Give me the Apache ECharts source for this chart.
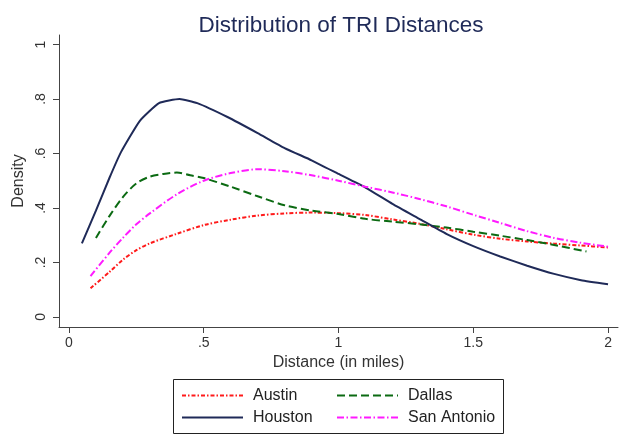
<!DOCTYPE html>
<html>
<head>
<meta charset="utf-8">
<script src="https://cdn.jsdelivr.net/npm/echarts@6/dist/echarts.min.js"></script>
<style>
  html, body { margin: 0; padding: 0; background: #fff; }
  #chart { width: 627px; height: 436px; }
</style>
</head>
<body>
<div id="chart"></div>
<script>
// kernel density curves
const austinX = [0.08, 0.15, 0.2, 0.25, 0.3, 0.4, 0.5, 0.6, 0.7, 0.8, 0.9, 1.0, 1.1, 1.2, 1.3, 1.4, 1.5, 1.6, 1.7, 1.8, 1.9, 2.0];
const austinY = [0.105, 0.165, 0.21, 0.245, 0.27, 0.305, 0.337, 0.357, 0.372, 0.38, 0.383, 0.381, 0.374, 0.358, 0.342, 0.322, 0.302, 0.287, 0.277, 0.269, 0.262, 0.255];

const dallasX = [0.1, 0.15, 0.2, 0.25, 0.3, 0.35, 0.4, 0.45, 0.5, 0.6, 0.7, 0.8, 0.9, 1.0, 1.1, 1.2, 1.3, 1.4, 1.5, 1.6, 1.7, 1.8, 1.92];
const dallasY = [0.29, 0.37, 0.44, 0.49, 0.515, 0.525, 0.53, 0.52, 0.51, 0.478, 0.443, 0.41, 0.39, 0.378, 0.36, 0.35, 0.34, 0.328, 0.313, 0.298, 0.282, 0.264, 0.24];

const houstonX = [0.048, 0.1, 0.15, 0.193, 0.263, 0.334, 0.41, 0.476, 0.588, 0.7, 0.8, 0.9, 1.0, 1.1, 1.2, 1.3, 1.4, 1.5, 1.6, 1.7, 1.8, 1.9, 2.0];
const houstonY = [0.27, 0.39, 0.51, 0.605, 0.72, 0.785, 0.80, 0.785, 0.734, 0.675, 0.62, 0.575, 0.525, 0.475, 0.415, 0.36, 0.305, 0.26, 0.222, 0.188, 0.158, 0.135, 0.12];

const sanAntonioX = [0.08, 0.15, 0.2, 0.25, 0.3, 0.4, 0.5, 0.6, 0.7, 0.8, 0.9, 1.0, 1.1, 1.2, 1.3, 1.4, 1.5, 1.6, 1.7, 1.8, 1.9, 2.0];
const sanAntonioY = [0.15, 0.235, 0.29, 0.34, 0.38, 0.45, 0.5, 0.528, 0.542, 0.535, 0.52, 0.5, 0.478, 0.457, 0.433, 0.406, 0.375, 0.345, 0.315, 0.29, 0.272, 0.258];

const xTicks = [0, 0.5, 1, 1.5, 2];
const yTicks = [0, 0.2, 0.4, 0.6, 0.8, 1];

const font = "'Liberation Sans', Arial, sans-serif";

function pairs(xs, ys) {
  return xs.map((x, i) => [x, ys[i]]);
}
// stata style labels: .5 instead of 0.5
function stataLabel(v) {
  return String(v).replace(/^0\./, '.');
}

const legendCommon = {
  orient: 'vertical',
  top: 387,
  padding: 0,
  itemWidth: 61, itemHeight: 14, itemGap: 5,
  itemStyle: { opacity: 0 },
  textStyle: { fontFamily: font, fontSize: 16, lineHeight: 17, color: '#222', padding: [0, 0, 0, 5] }
};

const chart = echarts.init(document.getElementById('chart'));

chart.setOption({
  animation: false,
  backgroundColor: '#fff',
  title: {
    text: 'Distribution of TRI Distances',
    left: 336,
    textAlign: 'center',
    top: 9,
    textStyle: { fontFamily: font, fontSize: 22.5, fontWeight: 'normal', color: '#1f2a58' }
  },
  grid: { left: 59, right: 9, top: 35, bottom: 109 },
  xAxis: {
    type: 'value',
    min: -0.037,
    max: 2.037,
    name: 'Distance (in miles)',
    nameLocation: 'middle',
    nameGap: 28,
    nameTextStyle: { fontFamily: font, fontSize: 16, color: '#333' },
    axisLine: { onZero: false, lineStyle: { color: '#444', width: 1 } },
    axisTick: { customValues: xTicks, length: 6, lineStyle: { color: '#444' } },
    axisLabel: {
      customValues: xTicks,
      formatter: stataLabel,
      fontFamily: font, fontSize: 14, color: '#333', margin: 9
    },
    splitLine: { show: false }
  },
  yAxis: {
    type: 'value',
    min: -0.037,
    max: 1.035,
    name: 'Density',
    nameLocation: 'middle',
    nameGap: 31,
    nameTextStyle: { fontFamily: font, fontSize: 16, color: '#333' },
    axisLine: { onZero: false, lineStyle: { color: '#444', width: 1 } },
    axisTick: { customValues: yTicks, length: 6, lineStyle: { color: '#444' } },
    axisLabel: {
      customValues: yTicks,
      formatter: stataLabel,
      rotate: 90,
      fontFamily: font, fontSize: 14, color: '#333', margin: 11
    },
    splitLine: { show: false }
  },
  graphic: [{
    type: 'rect',
    shape: { x: 173.5, y: 379.5, width: 330, height: 54 },
    style: { fill: 'none', stroke: '#222', lineWidth: 1 }
  }],
  legend: [
    Object.assign({ data: ['Austin', 'Houston'], left: 181 }, legendCommon),
    Object.assign({ data: ['Dallas', 'San Antonio'], left: 336 }, legendCommon)
  ],
  series: [
    {
      name: 'Austin', type: 'line', showSymbol: false, symbol: 'none', smooth: 0.3,
      data: pairs(austinX, austinY),
      lineStyle: { color: '#ff1a1a', width: 2, type: [4, 2, 1.5, 2] },
      itemStyle: { color: '#ff1a1a' }
    },
    {
      name: 'Dallas', type: 'line', showSymbol: false, symbol: 'none', smooth: 0.3,
      data: pairs(dallasX, dallasY),
      lineStyle: { color: '#0b6a12', width: 2, type: [8, 4] },
      itemStyle: { color: '#0b6a12' }
    },
    {
      name: 'Houston', type: 'line', showSymbol: false, symbol: 'none', smooth: 0.15,
      data: pairs(houstonX, houstonY),
      lineStyle: { color: '#1f2a58', width: 2 },
      itemStyle: { color: '#1f2a58' }
    },
    {
      name: 'San Antonio', type: 'line', showSymbol: false, symbol: 'none', smooth: 0.3,
      data: pairs(sanAntonioX, sanAntonioY),
      lineStyle: { color: '#ff1aff', width: 2, type: [7, 2.5, 1.5, 2.5] },
      itemStyle: { color: '#ff1aff' }
    }
  ]
});
</script>
</body>
</html>
